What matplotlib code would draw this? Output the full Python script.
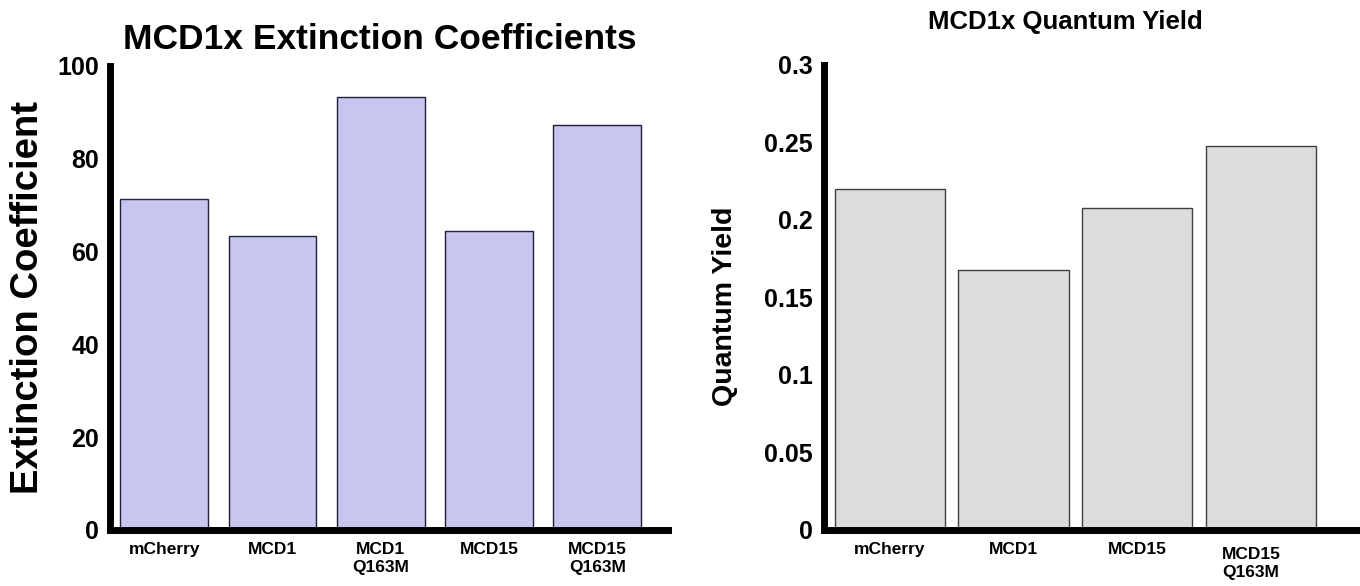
import matplotlib
matplotlib.use("Agg")
import matplotlib.pyplot as plt
from matplotlib.transforms import ScaledTranslation

plt.rcParams["font.family"] = ["Liberation Sans", "DejaVu Sans"]
plt.rcParams["font.weight"] = "bold"

# Daten
ext_labels = ["mCherry", "MCD1", "MCD1\nQ163M", "MCD15", "MCD15\nQ163M"]
ext_values = [71.3, 63.4, 93.3, 64.4, 87.3]
qy_labels = ["mCherry", "MCD1", "MCD15", "MCD15\nQ163M"]
qy_values = [0.220, 0.168, 0.208, 0.248]

fig = plt.figure(figsize=(13.6, 5.86), dpi=100)
ax1 = fig.add_axes([0.0809, 0.0956, 0.410, 0.792])
ax2 = fig.add_axes([0.606, 0.0956, 0.394, 0.7935])


def style(ax):
    for s in ["top", "right"]:
        ax.spines[s].set_visible(False)
    for s in ["left", "bottom"]:
        ax.spines[s].set_linewidth(5)
    ax.tick_params(length=0, labelsize=18, pad=8)
    ax.tick_params(axis="x", labelsize=12.5, pad=9)
    for t in ax.get_yticklabels() + ax.get_xticklabels():
        t.set_fontweight("bold")
    for t in ax.get_xticklabels():
        t.set_linespacing(1.25)


# links: Extinktionskoeffizienten
ax1.bar(range(len(ext_values)), ext_values, width=0.81,
        color="#c6c6f0", edgecolor="#20203a", linewidth=1)
ax1.set_xlim(-0.5, 4.65)
ax1.set_ylim(0, 100)
ax1.set_yticks([0, 20, 40, 60, 80, 100])
ax1.set_xticks(range(len(ext_labels)))
ax1.set_xticklabels(ext_labels)
ax1.set_ylabel("Extinction Coefficient", fontsize=27.5, fontweight="bold", labelpad=8)
ax1.set_title("MCD1x Extinction Coefficients", fontsize=25.5, fontweight="bold",
              x=0.484, pad=12)
style(ax1)

# rechts: Quantenausbeute
ax2.bar(range(len(qy_values)), qy_values, width=0.89,
        color="#dcdcdc", edgecolor="#404040", linewidth=1)
ax2.set_xlim(-0.53, 3.8)
ax2.set_ylim(0, 0.3)
ax2.set_yticks([0, 0.05, 0.1, 0.15, 0.2, 0.25, 0.3])
ax2.set_yticklabels(["0", "0.05", "0.1", "0.15", "0.2", "0.25", "0.3"])
ax2.set_xticks(range(len(qy_labels)))
ax2.set_xticklabels(qy_labels)
ax2.set_ylabel("Quantum Yield", fontsize=20.5, fontweight="bold")
ax2.yaxis.set_label_coords(-0.16, 0.48)
ax2.set_title("MCD1x Quantum Yield", fontsize=18.5, fontweight="bold", x=0.45, pad=26)
style(ax2)

# letztes Label rechts etwas versetzt wie im Original
lab = ax2.get_xticklabels()[-1]
lab.set_transform(lab.get_transform() + ScaledTranslation(-0.1, -0.05, fig.dpi_scale_trans))

fig.savefig("out.png", dpi=100)
